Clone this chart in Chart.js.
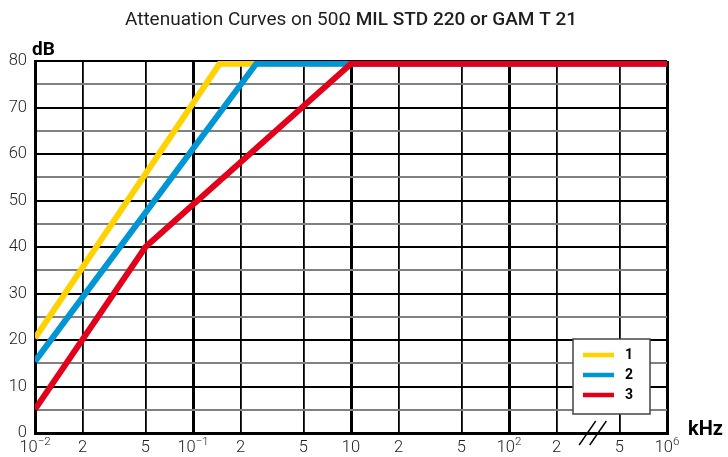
<!DOCTYPE html>
<html><head><meta charset="utf-8">
<script src="https://cdn.jsdelivr.net/npm/chart.js@4.4.1/dist/chart.umd.min.js"></script>
<style>html,body{margin:0;padding:0;background:#fff}#wrap{width:728px;height:457px}</style>
</head><body><div id="wrap"><canvas id="c" width="728" height="457"></canvas></div>
<script>
// ---- text ----
const titleRegular = 'Attenuation Curves on 50\u03A9 ';
const titleBold = 'MIL STD 220 or GAM T 21';
const yAxisTitle = 'dB';
const xAxisTitle = 'kHz';
const seriesLabels = ['1', '2', '3'];
const seriesColors = ['#FFD200', '#0096D6', '#E2001A'];

// ---- data ----
// x = position in decades along the broken log axis, counted from the 10^-2 origin
const curve1X = [0, 1.168, 4];
const curve1Y = [20.4, 79.4, 79.4];
const curve2X = [0, 1.40, 4];
const curve2Y = [15.4, 79.4, 79.4];
const curve3X = [0, 0.699, 2, 4];
const curve3Y = [5.1, 40, 79.4, 79.4];

// ---- axis ticks ----
const xTickPos  = [0, 0.301, 0.699, 1, 1.301, 1.699, 2, 2.301, 2.699, 3, 3.301, 3.699, 4];
const xTickBase = ['10', '2', '5', '10', '2', '5', '10', '2', '5', '10', '2', '5', '10'];
const xTickExp  = ['\u22122', '', '', '\u22121', '', '', '', '', '', '2', '', '', '6'];
const xDecadeIdx = [0, 3, 6, 9, 12];
const xBreakPos = 3.53;
const yMin = 0, yMax = 80, yStep = 5, yLabelStep = 10;

const toPts = (xs, ys) => xs.map((v, i) => ({x: v, y: ys[i]}));
const curves = [[curve1X, curve1Y], [curve2X, curve2Y], [curve3X, curve3Y]];

const decor = {
  id: 'decor',
  afterDraw(chart) {
    const {ctx, chartArea: a, scales: {x}} = chart;
    ctx.save();
    ctx.fillStyle = '#1e1e1e';
    ctx.textBaseline = 'alphabetic';
    ctx.textAlign = 'left';
    // title
    const fR = '400 19px Roboto', fB = '500 19px Roboto';
    ctx.font = fR; const w1 = ctx.measureText(titleRegular).width;
    ctx.font = fB; const w2 = ctx.measureText(titleBold).width;
    const tx = (a.left + a.right) / 2 - (w1 + w2) / 2;
    ctx.font = fR; ctx.fillText(titleRegular, tx, 25);
    ctx.font = fB; ctx.fillText(titleBold, tx + w1, 25);
    // axis titles
    ctx.fillStyle = '#000';
    ctx.font = 'bold 19px "Liberation Sans Narrow", Roboto';
    ctx.fillText(yAxisTitle, a.left - 3, a.top - 6.5);
    ctx.font = 'bold 20px Roboto';
    ctx.fillText(xAxisTitle, 688, a.bottom + 2);
    // x tick labels
    const lf = '300 16.5px Roboto', ef = '300 11.5px Roboto';
    ctx.fillStyle = '#222';
    xTickPos.forEach((v, i) => {
      const px = x.getPixelForValue(v);
      ctx.font = lf; const bw = ctx.measureText(xTickBase[i]).width;
      ctx.font = ef; const ew = xTickExp[i] ? ctx.measureText(xTickExp[i]).width : 0;
      const s = px - (bw + ew) / 2;
      ctx.font = lf; ctx.fillText(xTickBase[i], s, a.bottom + 18.5);
      if (xTickExp[i]) { ctx.font = ef; ctx.fillText(xTickExp[i], s + bw, a.bottom + 12); }
    });
    // axis break marks
    const bx = x.getPixelForValue(xBreakPos), by = a.bottom;
    ctx.strokeStyle = '#000'; ctx.lineWidth = 1.4;
    [-5.3, 5.3].forEach(o => {
      ctx.beginPath(); ctx.moveTo(bx + o - 8.3, by + 12); ctx.lineTo(bx + o + 8.3, by - 12); ctx.stroke();
    });
    // legend
    const lx = a.right - 94, ly = a.bottom - 94;
    ctx.fillStyle = '#fff'; ctx.fillRect(lx, ly, 77, 75);
    ctx.strokeStyle = '#444'; ctx.lineWidth = 1.5; ctx.strokeRect(lx, ly, 77, 75);
    ctx.font = 'bold 14px Roboto'; ctx.textBaseline = 'middle';
    chart.data.datasets.forEach((ds, i) => {
      const yy = ly + 16 + i * 20;
      ctx.strokeStyle = ds.borderColor; ctx.lineWidth = 4.5;
      ctx.beginPath(); ctx.moveTo(lx + 10, yy); ctx.lineTo(lx + 41, yy); ctx.stroke();
      ctx.fillStyle = '#000'; ctx.fillText(ds.label, lx + 52, yy + 0.5);
    });
    ctx.restore();
  }
};

new Chart(document.getElementById('c'), {
  type: 'line',
  data: {
    datasets: curves.map((c, i) => ({
      label: seriesLabels[i],
      data: toPts(c[0], c[1]),
      borderColor: seriesColors[i],
      backgroundColor: seriesColors[i],
      borderWidth: 6,
      pointRadius: 0,
      fill: false,
      tension: 0,
      borderJoinStyle: 'miter',
      borderCapStyle: 'butt',
      order: 3 - i
    }))
  },
  options: {
    responsive: false,
    animation: false,
    layout: {padding: {top: 61, right: 61, left: 0, bottom: 0}},
    plugins: {legend: {display: false}, tooltip: {enabled: false}, title: {display: false}},
    scales: {
      x: {
        type: 'linear', min: 0, max: 4,
        afterBuildTicks: s => { s.ticks = xTickPos.map(v => ({value: v})); },
        afterFit: s => { s.height = 24; },
        ticks: {display: false},
        grid: {
          color: '#000',
          lineWidth: c => xDecadeIdx.includes(c.index) ? 3 : 1.8,
          drawTicks: false
        },
        border: {display: true, color: '#000', width: 3}
      },
      y: {
        type: 'linear', min: yMin, max: yMax,
        afterFit: s => { s.width = 35; },
        ticks: {
          stepSize: yStep,
          callback: v => (v % yLabelStep === 0 ? String(v) : ''),
          font: {family: 'Roboto', size: 16.5, weight: 300},
          color: '#222',
          padding: 8
        },
        grid: {
          color: c => (c.tick && c.tick.value % yLabelStep === 0 ? '#000' : '#808080'),
          lineWidth: 2,
          drawTicks: false
        },
        border: {display: true, color: '#000', width: 3}
      }
    }
  },
  plugins: [decor]
});
</script></body></html>
